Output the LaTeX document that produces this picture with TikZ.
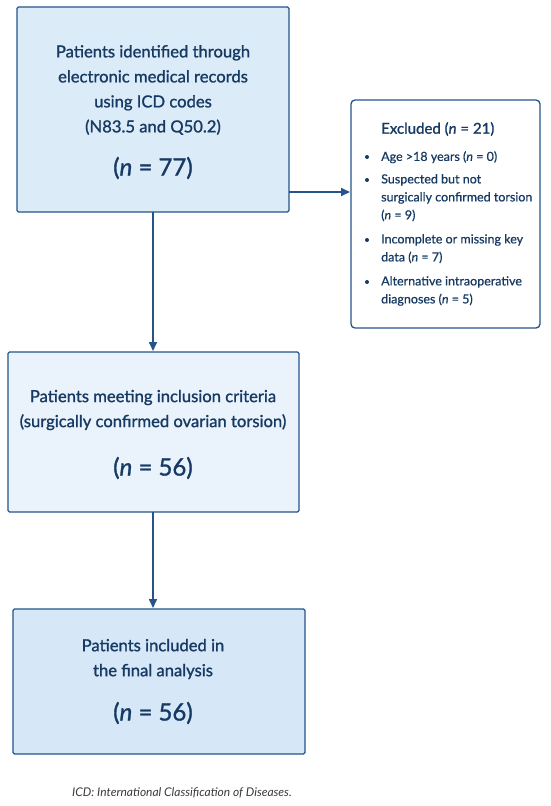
\documentclass[tikz,border=0pt]{standalone}
\usepackage{fontspec}
\setmainfont{Lato}
\newfontfamily\medfont{Lato}[FakeBold=1.2]
\newfontfamily\itemfont{Lato}[FakeBold=0.6]
\usetikzlibrary{arrows.meta}
\definecolor{bordc}{HTML}{24548A}
\definecolor{txtc}{HTML}{163A63}
\definecolor{fillA}{HTML}{DCEBF8}
\definecolor{fillB}{HTML}{EAF3FB}
\definecolor{fillC}{HTML}{D6E8F7}
\definecolor{capc}{HTML}{3A3A3A}
\tikzset{
  mainbox/.style={draw=bordc, line width=1.3pt, rounded corners=1.5pt},
  body/.style={text=txtc, font=\medfont\fontsize{16.6}{25}\selectfont, align=center, inner sep=0pt},
  bignum/.style={text=txtc, font=\medfont\fontsize{24}{28}\selectfont, inner sep=0pt},
  item/.style={text=txtc, font=\itemfont\fontsize{12.5}{18}\selectfont, align=left, anchor=north west, inner sep=0pt},
  dot/.style={circle, fill=txtc, inner sep=0pt, minimum size=4pt},
  conn/.style={draw=bordc, line width=1.6pt, -{Triangle[length=9pt,width=8pt]}}
}
\begin{document}
\begin{tikzpicture}[x=1pt,y=-1pt]
\useasboundingbox (0,0) rectangle (550,806);
% boxes
\draw[mainbox, fill=fillA] (17,7) rectangle (289,212);
\draw[mainbox, fill=fillB] (8,352) rectangle (299,512);
\draw[mainbox, fill=fillC] (13,609) rectangle (305,754);
\draw[mainbox, fill=white, rounded corners=4pt] (351,100) rectangle (540,328);
\coordinate (b1s) at (153,212);
\coordinate (b1e) at (289,192);
\coordinate (exw) at (350,192);
\coordinate (b2n) at (153,351);
\coordinate (b2s) at (153,512);
\coordinate (b3n) at (153,608);
% box 1 text
\node[body] (t1) at (153,90) {Patients identified through\\electronic medical records\\using ICD codes\\(N83.5 and Q50.2)};
\node[bignum] (n1) at (153,168) {(\textit{n} = 77)};
% box 2 text
\node[body] (t2) at (153,410) {Patients meeting inclusion criteria\\(surgically confirmed ovarian torsion)};
\node[bignum] (n2) at (153,468) {(\textit{n} = 56)};
% box 3 text
\node[body] (t3) at (153,659) {Patients included in\\the final analysis};
\node[bignum] (n3) at (153,713) {(\textit{n} = 56)};
% excluded
\node[text=txtc, font=\medfont\fontsize{15}{18}\selectfont, anchor=west, inner sep=0pt] (ex) at (381,129) {Excluded (\textit{n} = 21)};
\node[item] (i1) at (381,151) {Age >18 years (\textit{n} = 0)};
\node[item] (i2) at (381,174) {Suspected but not\\surgically confirmed torsion\\(\textit{n} = 9)};
\node[item] (i3) at (381,234) {Incomplete or missing key\\data (\textit{n} = 7)};
\node[item] (i4) at (381,276) {Alternative intraoperative\\diagnoses (\textit{n} = 5)};
\node[dot] (d1) at (367,157) {};
\node[dot] (d2) at (367,180) {};
\node[dot] (d3) at (367,240) {};
\node[dot] (d4) at (367,282) {};
% arrows
\draw[conn] (b1s) -- (b2n);
\draw[conn] (b1e) -- (exw);
\draw[conn] (b2s) -- (b3n);
% caption
\node[text=capc, font=\fontsize{12}{14}\selectfont\itshape, inner sep=0pt] (cap) at (182,793) {ICD: International Classification of Diseases.};
\end{tikzpicture}
\end{document}
